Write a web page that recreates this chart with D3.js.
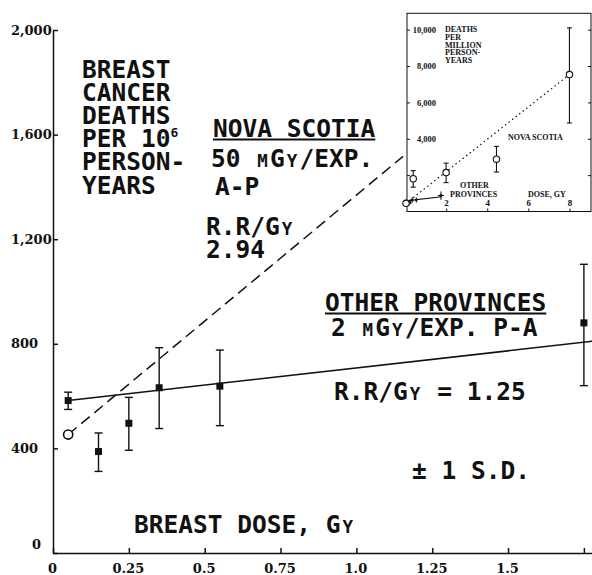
<!DOCTYPE html>
<html>
<head>
<meta charset="utf-8">
<script src="https://cdn.jsdelivr.net/npm/d3@7"></script>
<style>
body{margin:0;background:#fff;}
svg{display:block;}
.axis path,.axis line{stroke:#111;stroke-width:1.5;}
.axis text{font-family:"DejaVu Serif",serif;font-weight:bold;font-size:13px;fill:#111;}
.lbl{font-family:"DejaVu Sans Mono",monospace;font-weight:bold;font-size:24.5px;fill:#111;}
.inset .axis path,.inset .axis line{stroke-width:1;}
.inset text{font-family:"Liberation Serif",serif;font-weight:bold;font-size:8px;fill:#111;}
</style>
</head>
<body>
<div id="chart"></div>
<script>
const svgWidth = 592;
const svgHeight = 575;

// main chart: axes
const xTicks = [0, 0.25, 0.5, 0.75, 1.0, 1.25, 1.5, 1.75];
const xTickLabels = ["0", "0.25", "0.5", "0.75", "1.0", "1.25", "1.5", ""];
const yTicks = [0, 400, 800, 1200, 1600, 2000];
const yTickLabels = ["0", "400", "800", "1,200", "1,600", "2,000"];

// other provinces (filled squares, +/- 1 S.D.)
const otherDose = [0.05, 0.15, 0.25, 0.35, 0.55, 1.75];
const otherRate = [583, 388, 496, 632, 638, 880];
const otherLow = [549, 312, 393, 476, 487, 640];
const otherHigh = [615, 459, 595, 785, 776, 1104];
const otherFitDose = [0.05, 1.78];
const otherFitRate = [583, 810];

// nova scotia (open circle, dashed fit)
const novaDose = [0.05];
const novaRate = [453];
const novaFitDose = [0.05, 1.154];
const novaFitRate = [453, 1517];

// inset
const insetXTicks = [2, 4, 6, 8];
const insetXTickLabels = ["2", "4", "6", "8"];
const insetYTicks = [2000, 4000, 6000, 8000, 10000];
const insetYTickLabels = ["", "4,000", "6,000", "8,000", "10,000"];
const insetNovaDose = [0.05, 0.4, 2.0, 4.45, 8.0];
const insetNovaRate = [450, 1800, 2140, 2880, 7530];
const insetNovaLow = [null, 1340, 1590, 2170, 4870];
const insetNovaHigh = [null, 2250, 2660, 3580, 10100];
const insetNovaFitDose = [0.05, 8.0];
const insetNovaFitRate = [450, 7530];

drawChart();

function drawChart(){

  const svg = d3.select("#chart")
                .append("svg")
                .attr("width", svgWidth)
                .attr("height", svgHeight);

  svg.append("rect").attr("width", svgWidth).attr("height", svgHeight).attr("fill", "#fff");

  const xscale = d3.scaleLinear().domain([0, 1.78]).range([53, 593]);
  const yscale = d3.scaleLinear().domain([0, 2000]).range([553, 30]);

  //Axes
  const xaxis = d3.axisBottom(xscale)
        .tickValues(xTicks)
        .tickFormat((d, i) => xTickLabels[i])
        .tickSize(-5).tickSizeOuter(0).tickPadding(11);
  const gx = svg.append("g")
        .attr("class", "axis")
        .attr("transform", "translate(0," + yscale(0) + ")")
        .call(xaxis);
  gx.selectAll("text").attr("dx", -1);

  const yaxis = d3.axisLeft(yscale)
        .tickValues(yTicks)
        .tickFormat((d, i) => yTickLabels[i])
        .tickSize(-5).tickSizeOuter(0);
  const gy = svg.append("g")
        .attr("class", "axis")
        .attr("transform", "translate(" + xscale(0) + ",0)")
        .call(yaxis);
  // typewriter style labels: flush left
  gy.selectAll("text").attr("text-anchor", "start").attr("x", -42);
  gy.selectAll(".tick").filter(d => d === 0).select("text")
        .attr("x", -21).attr("dy", "-0.33em");

  const line = d3.line().x(d => xscale(d[0])).y(d => yscale(d[1]));

  //Fit lines
  svg.append("path")
     .datum(d3.zip(otherFitDose, otherFitRate))
     .attr("d", line)
     .attr("fill", "none").attr("stroke", "#111").attr("stroke-width", 1.6);

  svg.append("path")
     .datum(d3.zip(novaFitDose, novaFitRate))
     .attr("d", line)
     .attr("fill", "none").attr("stroke", "#111").attr("stroke-width", 1.5)
     .attr("stroke-dasharray", "11,6");

  //Error bars + squares
  const pts = otherDose.map((d, i) => ({x: d, y: otherRate[i], lo: otherLow[i], hi: otherHigh[i]}));
  const eb = svg.append("g").attr("stroke", "#111").attr("stroke-width", 1.4);
  pts.forEach(p => {
    const cx = xscale(p.x);
    eb.append("line").attr("x1", cx).attr("x2", cx).attr("y1", yscale(p.lo)).attr("y2", yscale(p.hi));
    eb.append("line").attr("x1", cx - 4).attr("x2", cx + 4).attr("y1", yscale(p.lo)).attr("y2", yscale(p.lo));
    eb.append("line").attr("x1", cx - 4).attr("x2", cx + 4).attr("y1", yscale(p.hi)).attr("y2", yscale(p.hi));
  });
  svg.selectAll(".sq").data(pts).enter().append("rect")
     .attr("x", d => xscale(d.x) - 3.5).attr("y", d => yscale(d.y) - 3.5)
     .attr("width", 7).attr("height", 7).attr("fill", "#111");

  svg.selectAll(".ns").data(novaDose).enter().append("circle")
     .attr("cx", d => xscale(d)).attr("cy", (d, i) => yscale(novaRate[i]))
     .attr("r", 4.6).attr("fill", "#fff").attr("stroke", "#111").attr("stroke-width", 1.6);

  //Labels (small caps keep the typewriter cell width)
  function label(x0, y0, parts, underline){
    const t = svg.append("text").attr("class", "lbl").attr("x", x0).attr("y", y0);
    parts.forEach(p => {
      const s = t.append("tspan").text(p[0]);
      if (p[1]) s.attr("font-size", 17.5).attr("dx", 2.1).attr("letter-spacing", 2.1);
    });
    if (underline){
      const w = t.node().getComputedTextLength();
      svg.append("line").attr("x1", x0).attr("x2", x0 + w)
         .attr("y1", y0 + 3).attr("y2", y0 + 3)
         .attr("stroke", "#111").attr("stroke-width", 2);
    }
    return t;
  }

  const title = ["BREAST", "CANCER", "DEATHS", "PER 10", "PERSON-", "YEARS"];
  title.forEach((s, i) => {
    const t = label(82, 77.5 + i * 23.2, [[s, false]]);
    if (s === "PER 10") t.append("tspan").attr("font-size", 13).attr("dy", -10).text("6");
  });

  label(213, 136.5, [["NOVA SCOTIA", false]], true);
  label(211, 166.5, [["50 ", false], ["M", true], ["G", false], ["Y", true], ["/EXP.", false]]);
  label(215, 195, [["A-P", false]]);
  label(206, 235, [["R.R/G", false], ["Y", true]]);
  label(206, 258, [["2.94", false]]);

  label(325, 310.5, [["OTHER PROVINCES", false]], true);
  label(331, 336, [["2 ", false], ["M", true], ["G", false], ["Y", true], ["/EXP. P-A", false]]);
  label(334, 400, [["R.R/G", false], ["Y", true], [" = 1.25", false]]);
  label(412, 479, [["\u00B1 1 S.D.", false]]);
  label(134, 533, [["BREAST DOSE, G", false], ["Y", true]]);

  drawInset(svg);
}

function drawInset(svg){
  const box = {left: 407, top: 13.3, right: 591, bottom: 211.5};
  const g = svg.append("g").attr("class", "inset");

  g.append("rect")
   .attr("x", box.left).attr("y", box.top)
   .attr("width", box.right - box.left).attr("height", box.bottom - box.top)
   .attr("fill", "#fff").attr("stroke", "#111").attr("stroke-width", 1);

  const xi = d3.scaleLinear().domain([0, 9]).range([405, 590]);
  const yi = d3.scaleLinear().domain([0, 10900]).range([box.bottom, box.top]);

  const ya = g.append("g").attr("class", "axis")
      .attr("transform", "translate(" + box.left + ",0)")
      .call(d3.axisLeft(yi).tickValues(insetYTicks)
            .tickFormat((d, i) => insetYTickLabels[i]).tickSize(-3).tickSizeOuter(0));
  ya.select(".domain").remove();
  ya.selectAll("text").attr("text-anchor", "end").attr("x", 29).style("font-size", "8.5px");

  const yr = g.append("g").attr("class", "axis")
      .attr("transform", "translate(" + box.right + ",0)")
      .call(d3.axisRight(yi).tickValues(insetYTicks).tickFormat("").tickSize(-3).tickSizeOuter(0));
  yr.select(".domain").remove();

  const xa = g.append("g").attr("class", "axis")
      .attr("transform", "translate(0," + box.bottom + ")")
      .call(d3.axisBottom(xi).tickValues(insetXTicks)
            .tickFormat((d, i) => insetXTickLabels[i]).tickSize(-3).tickSizeOuter(0));
  xa.select(".domain").remove();
  xa.selectAll("text").attr("y", -5.5).attr("dy", 0).style("font-size", "9px");

  const li = d3.line().x(d => xi(d[0])).y(d => yi(d[1]));

  // other provinces
  g.append("path").datum(d3.zip(otherFitDose, otherFitRate)).attr("d", li)
   .attr("fill", "none").attr("stroke", "#111").attr("stroke-width", 1.1);
  otherDose.forEach((d, i) => {
    const cx = xi(d);
    g.append("line").attr("x1", cx).attr("x2", cx)
     .attr("y1", yi(otherLow[i])).attr("y2", yi(otherHigh[i]))
     .attr("stroke", "#111").attr("stroke-width", 1);
    g.append("rect").attr("x", cx - 1.2).attr("y", yi(otherRate[i]) - 1.2)
     .attr("width", 2.4).attr("height", 2.4).attr("fill", "#111");
  });
  const lastO = otherDose.length - 1;
  g.append("line").attr("x1", xi(otherDose[lastO]) - 3).attr("x2", xi(otherDose[lastO]) + 3)
   .attr("y1", yi(otherRate[lastO])).attr("y2", yi(otherRate[lastO]))
   .attr("stroke", "#111").attr("stroke-width", 1);

  // nova scotia
  g.append("path").datum(d3.zip(insetNovaFitDose, insetNovaFitRate)).attr("d", li)
   .attr("fill", "none").attr("stroke", "#111").attr("stroke-width", 1.2)
   .attr("stroke-dasharray", "1.5,3");
  insetNovaDose.forEach((d, i) => {
    const cx = xi(d);
    if (insetNovaLow[i] !== null){
      const lo = yi(insetNovaLow[i]), hi = yi(insetNovaHigh[i]);
      g.append("line").attr("x1", cx).attr("x2", cx).attr("y1", lo).attr("y2", hi)
       .attr("stroke", "#111").attr("stroke-width", 1.1);
      g.append("line").attr("x1", cx - 2.5).attr("x2", cx + 2.5).attr("y1", lo).attr("y2", lo)
       .attr("stroke", "#111").attr("stroke-width", 1.1);
      g.append("line").attr("x1", cx - 2.5).attr("x2", cx + 2.5).attr("y1", hi).attr("y2", hi)
       .attr("stroke", "#111").attr("stroke-width", 1.1);
    }
    g.append("circle").attr("cx", cx).attr("cy", yi(insetNovaRate[i])).attr("r", 3.2)
     .attr("fill", "#fff").attr("stroke", "#111").attr("stroke-width", 1.1);
  });

  // inset texts
  ["DEATHS", "PER", "MILLION", "PERSON-", "YEARS"].forEach((s, i) => {
    g.append("text").attr("x", 445).attr("y", 32.3 + i * 7.6).text(s);
  });
  g.append("text").attr("x", 508).attr("y", 140).text("NOVA SCOTIA");
  g.append("text").attr("x", 460).attr("y", 187.5).text("OTHER");
  g.append("text").attr("x", 450).attr("y", 196.5).text("PROVINCES");
  g.append("text").attr("x", 528).attr("y", 196.5).text("DOSE, GY");
}
</script>
</body>
</html>
